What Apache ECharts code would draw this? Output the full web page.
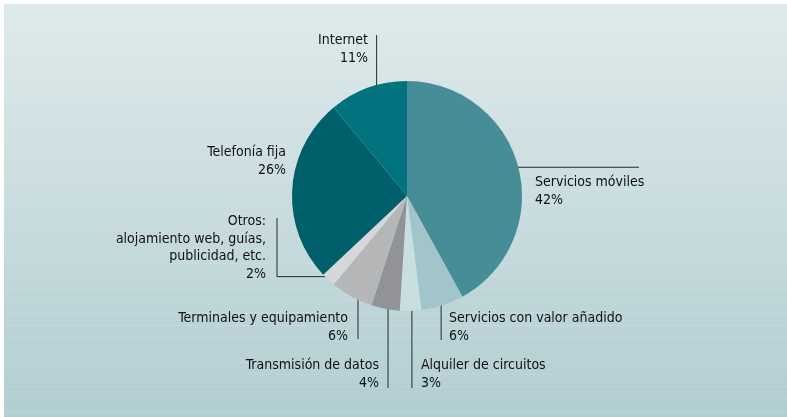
<!DOCTYPE html>
<html>
<head>
<meta charset="utf-8">
<script src="https://cdn.jsdelivr.net/npm/echarts@6/dist/echarts.min.js"></script>
<style>
  html, body { margin: 0; padding: 0; background: #fff; }
  #main { width: 787px; height: 417px; }
</style>
</head>
<body>
<div id="main"></div>
<script>
// slices, clockwise from 12 o'clock
const categories = [
  'Servicios móviles',
  'Servicios con valor añadido',
  'Alquiler de circuitos',
  'Transmisión de datos',
  'Terminales y equipamiento',
  'Otros:\nalojamiento web, guías,\npublicidad, etc.',
  'Telefonía fija',
  'Internet'
];
const shares = [42, 6, 3, 4, 6, 2, 26, 11];
const sliceColors = ['#468d98', '#a1c5cb', '#c8dee1', '#929398', '#b5b6b8', '#d6d7d9', '#005f6b', '#00737e'];

// where each label sits and how its leader line runs
// t: position along the slice arc, k: fraction of the radius
const placement = [
  { t: 0.47, k: 0.77, line: 'h', end: 639, x: 535, top: 177, align: 'left' },
  { t: 0.41, k: 0.87, line: 'v', end: 340, x: 449, top: 313, align: 'left' },
  { t: 0.40, k: 0.85, line: 'v', end: 388, x: 421, top: 360, align: 'left' },
  { t: 0.50, k: 0.88, line: 'v', end: 388, x: 379, top: 360, align: 'right' },
  { t: 0.50, k: 0.885, line: 'v', end: 339, x: 348, top: 313, align: 'right' },
  { t: 0.30, k: 0.94, line: 'elbow', elbowX: 277, end: 218, x: 266, top: 216, align: 'right' },
  { line: 'none', x: 286, top: 147, align: 'right' },
  { t: 0.50, k: 0.78, line: 'v', end: 35, x: 368, top: 35, align: 'right' }
];

const CX = 407, CY = 196, R = 115;
const total = shares.reduce((a, b) => a + b, 0);

function anchorPoint(i) {
  const p = placement[i];
  let before = 0;
  for (let j = 0; j < i; j++) before += shares[j];
  const a = (before + shares[i] * p.t) / total * Math.PI * 2;
  return [CX + p.k * R * Math.sin(a), CY - p.k * R * Math.cos(a)];
}

// faint scan stripes over the backdrop
const stripes = [];
for (let y = 15.8; y < 417; y += 12.35) {
  stripes.push({
    type: 'line',
    z: -9,
    silent: true,
    shape: { x1: 4, y1: Math.round(y) + 0.5, x2: 787, y2: Math.round(y) + 0.5 },
    style: { stroke: 'rgba(255,255,255,0.1)', lineWidth: 1 }
  });
}

const chart = echarts.init(document.getElementById('main'));

const option = {
  animation: false,
  graphic: [
    {
      type: 'rect',
      z: -10,
      silent: true,
      shape: { x: 4, y: 4, width: 783, height: 413 },
      style: {
        fill: new echarts.graphic.LinearGradient(0, 0, 0, 1, [
          { offset: 0, color: '#dfeaeb' },
          { offset: 1, color: '#b2ced2' }
        ])
      }
    }
  ].concat(stripes),
  series: [
    {
      type: 'pie',
      center: [CX, CY],
      radius: R,
      startAngle: 90,
      clockwise: true,
      avoidLabelOverlap: false,
      emphasis: { disabled: true },
      itemStyle: { borderWidth: 0 },
      label: {
        show: true,
        position: 'outside',
        formatter: '{b}\n{c}%',
        color: '#111',
        fontFamily: "'DejaVu Sans Condensed', 'Liberation Sans Narrow', sans-serif",
        fontSize: 14,
        lineHeight: 17.5
      },
      labelLine: {
        show: true,
        lineStyle: { color: '#2a2a2a', width: 1 }
      },
      labelLayout: function (params) {
        const i = params.dataIndex;
        const p = placement[i];
        const out = { x: p.x, y: p.top - 3, align: p.align, verticalAlign: 'top' };
        if (p.line !== 'none') {
          const a = anchorPoint(i);
          if (p.line === 'v') {
            out.labelLinePoints = [a, [a[0], p.end], [a[0], p.end]];
          } else if (p.line === 'h') {
            out.labelLinePoints = [a, [p.end, a[1]], [p.end, a[1]]];
          } else {
            out.labelLinePoints = [a, [p.elbowX, a[1]], [p.elbowX, p.end]];
          }
        }
        return out;
      },
      data: categories.map((name, i) => ({
        name: name,
        value: shares[i],
        itemStyle: { color: sliceColors[i] },
        labelLine: { show: placement[i].line !== 'none' }
      }))
    }
  ]
};

chart.setOption(option);
</script>
</body>
</html>
